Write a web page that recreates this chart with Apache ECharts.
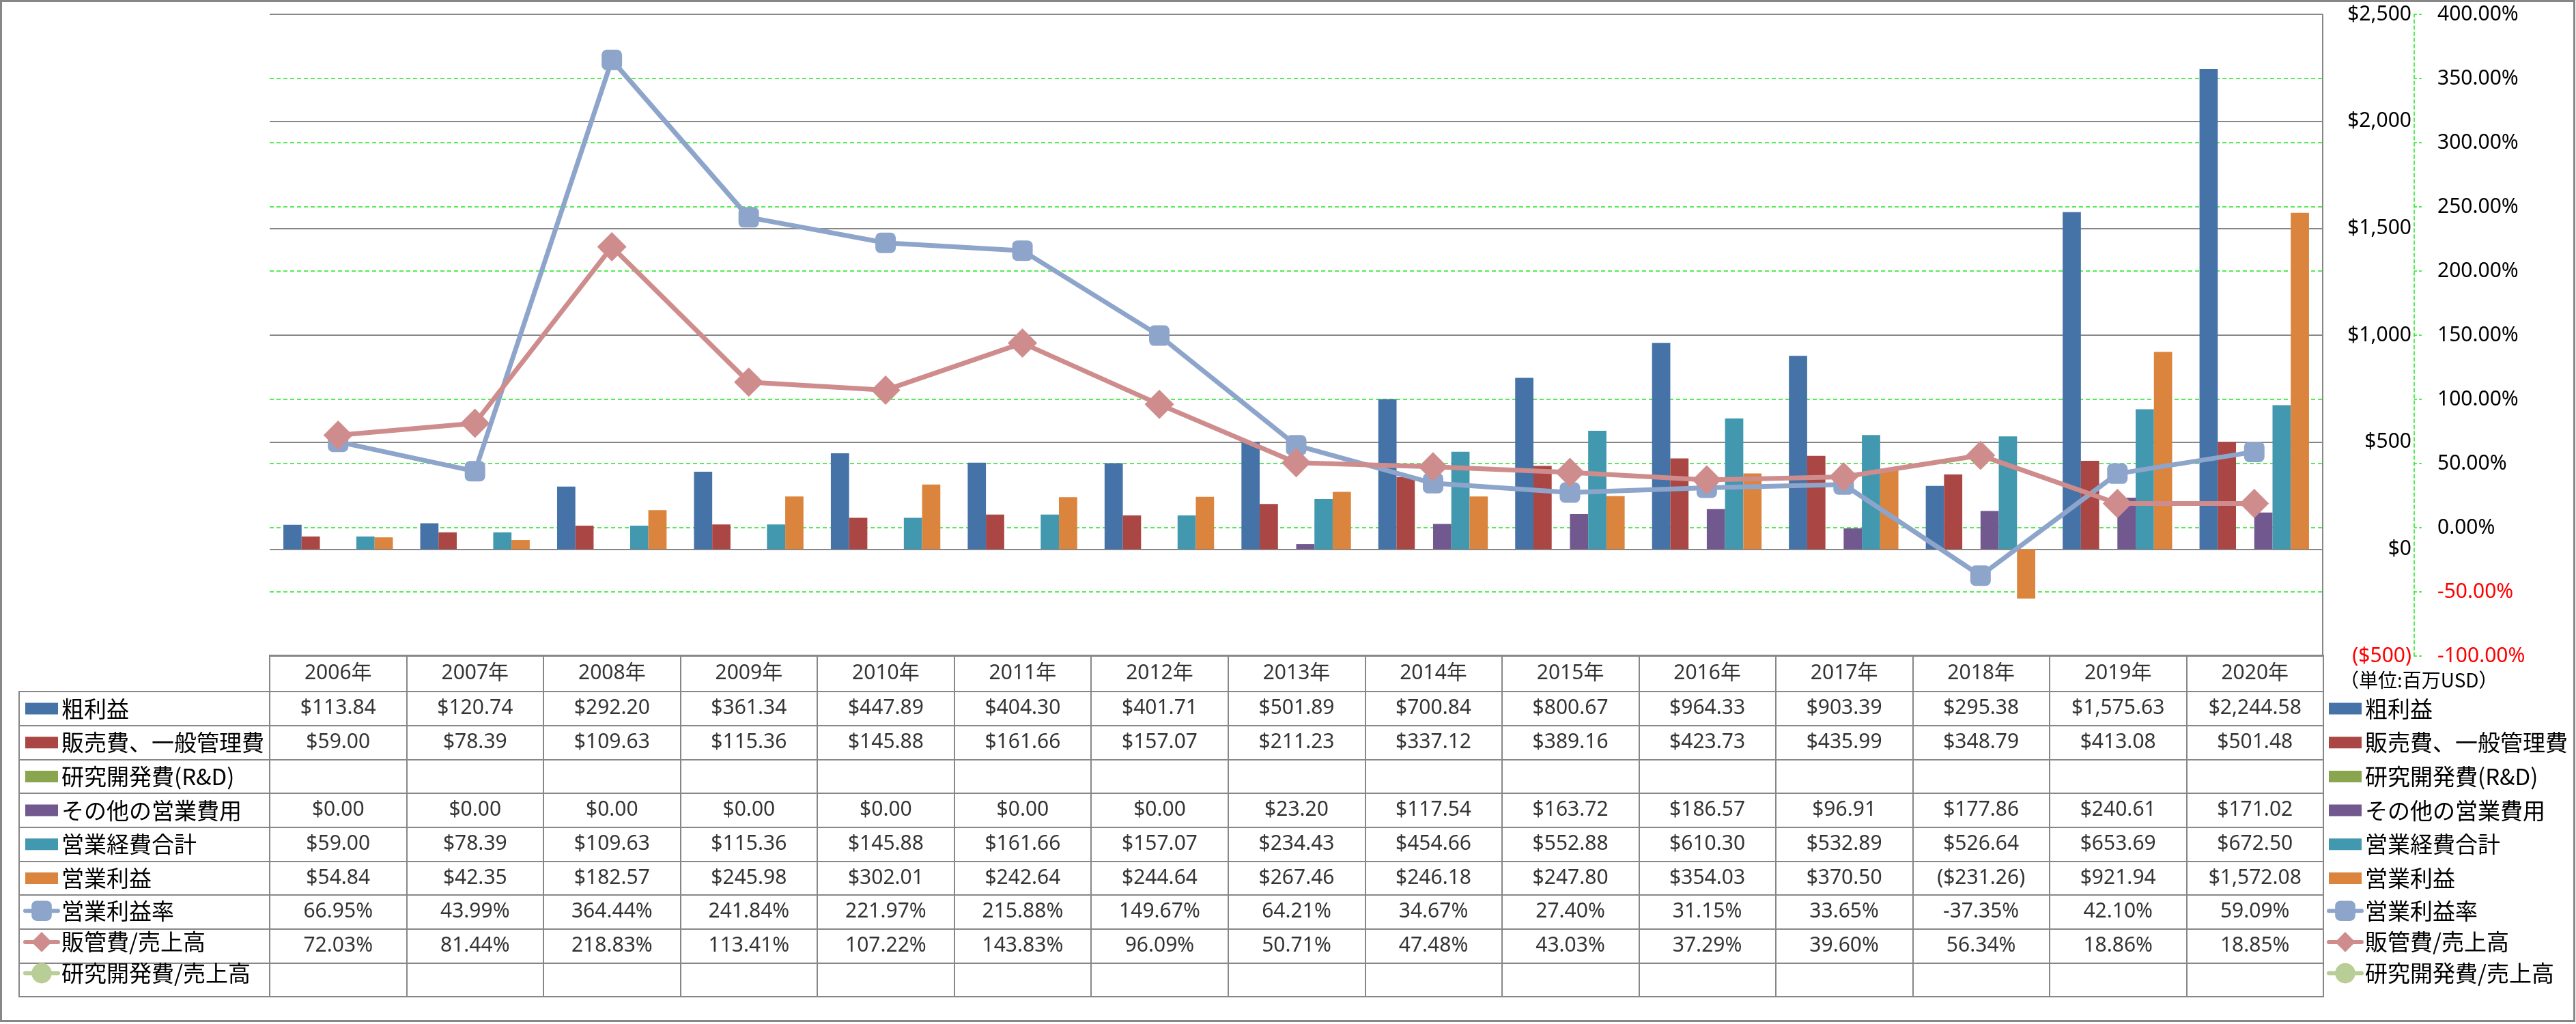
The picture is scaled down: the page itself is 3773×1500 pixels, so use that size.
<!DOCTYPE html>
<html><head><meta charset="utf-8">
<script src="https://cdn.jsdelivr.net/npm/echarts@6/dist/echarts.min.js"></script>
<style>html,body{margin:0;padding:0;background:#fff}#c{width:3773px;height:1500px}</style>
</head><body><div id="c"></div>
<script>
// ---------- data ----------
const years = ['2006年','2007年','2008年','2009年','2010年','2011年','2012年','2013年','2014年','2015年','2016年','2017年','2018年','2019年','2020年'];
const grossProfit     = [113.84,120.74,292.20,361.34,447.89,404.30,401.71,501.89,700.84,800.67,964.33,903.39,295.38,1575.63,2244.58];
const sgaExpense      = [59.00,78.39,109.63,115.36,145.88,161.66,157.07,211.23,337.12,389.16,423.73,435.99,348.79,413.08,501.48];
const rdExpense       = [null,null,null,null,null,null,null,null,null,null,null,null,null,null,null];
const otherOpex       = [0,0,0,0,0,0,0,23.20,117.54,163.72,186.57,96.91,177.86,240.61,171.02];
const totalOpex       = [59.00,78.39,109.63,115.36,145.88,161.66,157.07,234.43,454.66,552.88,610.30,532.89,526.64,653.69,672.50];
const operatingIncome = [54.84,42.35,182.57,245.98,302.01,242.64,244.64,267.46,246.18,247.80,354.03,370.50,-231.26,921.94,1572.08];
const operatingMargin = [66.95,43.99,364.44,241.84,221.97,215.88,149.67,64.21,34.67,27.40,31.15,33.65,-37.35,42.10,59.09];
const sgaRatio        = [72.03,81.44,218.83,113.41,107.22,143.83,96.09,50.71,47.48,43.03,37.29,39.60,56.34,18.86,18.85];
const rdRatio         = [null,null,null,null,null,null,null,null,null,null,null,null,null,null,null];

const barNames  = ['粗利益','販売費、一般管理費','研究開発費(R&D)','その他の営業費用','営業経費合計','営業利益'];
const lineNames = ['営業利益率','販管費/売上高','研究開発費/売上高'];
const dollarAxisTicks  = { min: -500, max: 2500, interval: 500 };
const percentAxisTicks = { min: -100, max: 400, interval: 50 };
const unitNote = '（単位:百万USD）';

// ---------- styles ----------
const barColors  = ['#4572A7','#AA4643','#89A54E','#71588F','#4198AF','#DB843D'];
const lineColors = ['#8EA5CB','#CE8D8C','#B9CD96'];
const lineSymbols = ['roundRect','diamond','circle'];
const lineSymbolSizes = [30, 43, 30];
const GRAY = '#878787';
const GREEN = '#1EE61E';
const LATIN = "'Noto Sans','Noto Sans CJK JP',sans-serif";
const CJK = "'Noto Sans CJK JP','Noto Sans',sans-serif";

const barData = [grossProfit, sgaExpense, rdExpense, otherOpex, totalOpex, operatingIncome];
const lineData = [operatingMargin, sgaRatio, rdRatio];
const allNames = barNames.concat(lineNames);

function fmtMoney(v){
  if (v == null) return '';
  const s = Math.abs(v).toLocaleString('en-US',{minimumFractionDigits:2,maximumFractionDigits:2});
  return v < 0 ? '($' + s + ')' : '$' + s;
}
function fmtPct(v){ return v == null ? '' : v.toFixed(2) + '%'; }

// ---------- table cell data ----------
const headerCells = years.map((y,i)=>[i,0,y]);
const bodyCells = [];
barData.forEach((arr,r)=>arr.forEach((v,c)=>{ if(v!=null) bodyCells.push([c,r,fmtMoney(v)]); }));
lineData.forEach((arr,k)=>arr.forEach((v,c)=>{ if(v!=null) bodyCells.push([c,barNames.length+k,fmtPct(v)]); }));

const barIcon = 'path://M0,0M0,10L48,10L48,27L0,27ZM48,37';
const legendData = allNames.map((n,i)=> i < barNames.length ? {name:n, icon:barIcon} : {name:n});

const series = [];
barNames.forEach((n,i)=>series.push({
  type:'bar', name:n, data:barData[i], xAxisIndex:0, yAxisIndex:0,
  itemStyle:{color:barColors[i]}, barGap:'0%', barCategoryGap:'20%'
}));
lineNames.forEach((n,i)=>series.push({
  type:'line', name:n, data:lineData[i], xAxisIndex:0, yAxisIndex:1,
  symbol:lineSymbols[i], symbolSize:lineSymbolSizes[i],
  lineStyle:{width:7,color:lineColors[i]}, itemStyle:{color:lineColors[i]}
}));
const cellLabel = {show:true, position:'inside', color:'#000', fontSize:30, fontFamily:LATIN, formatter:p=>p.value[2]};
series.push({type:'scatter', name:'_header', xAxisIndex:1, yAxisIndex:2, data:headerCells, symbolSize:1,
  itemStyle:{color:'rgba(0,0,0,0)'}, label:cellLabel, silent:true});
series.push({type:'scatter', name:'_body', xAxisIndex:2, yAxisIndex:3, data:bodyCells, symbolSize:1,
  itemStyle:{color:'rgba(0,0,0,0)'}, label:cellLabel, silent:true});

const hidden = {axisLine:{show:false}, axisTick:{show:false}, axisLabel:{show:false}};
const split = {show:true, interval:0, lineStyle:{color:GRAY, width:2}};
const gridBorder = {show:true, borderColor:GRAY, borderWidth:2, backgroundColor:'transparent', outerBoundsMode:'none', containLabel:false};
const legendCommon = {data:legendData, orient:'vertical', top:1019.5, padding:0, itemGap:12.7,
  itemWidth:48, itemHeight:37, selectedMode:false, lineStyle:{width:6, cap:'round'},
  textStyle:{fontSize:33, lineHeight:33, fontFamily:CJK, color:'#000'}};

const option = {
  animation:false,
  backgroundColor:'#fff',
  title:{text:unitNote, left:3427, top:982, padding:0,
    textStyle:{fontSize:28, fontWeight:'normal', fontFamily:CJK, color:'#000'}},
  grid:[
    {left:395, top:21, width:3007, height:940, outerBoundsMode:'none', containLabel:false},
    Object.assign({left:395, top:960, width:3008, height:53}, gridBorder),
    Object.assign({left:395, top:1013, width:3008, height:447}, gridBorder),
    Object.assign({left:28, top:1013, width:367, height:447}, gridBorder)
  ],
  xAxis:[
    Object.assign({gridIndex:0, type:'category', data:years, boundaryGap:true, splitLine:{show:false}}, hidden),
    Object.assign({gridIndex:1, type:'category', data:years, boundaryGap:true, splitLine:split}, hidden),
    Object.assign({gridIndex:2, type:'category', data:years, boundaryGap:true, splitLine:split}, hidden),
    {gridIndex:3, type:'value', min:0, max:1, show:false}
  ],
  yAxis:[
    {gridIndex:0, type:'value', position:'right', z:1,
      min:dollarAxisTicks.min, max:dollarAxisTicks.max, interval:dollarAxisTicks.interval,
      axisLine:{show:true, lineStyle:{color:GRAY, width:2}},
      axisTick:{show:false},
      axisLabel:{margin:130, align:'right', fontSize:30, fontFamily:LATIN,
        color:v=> Number(v) < 0 ? '#FF0000' : '#000',
        formatter:v=> v < 0 ? '($' + Math.abs(v).toLocaleString('en-US') + ')' : '$' + v.toLocaleString('en-US')},
      splitLine:{show:true, lineStyle:{color:GRAY, width:2}}},
    {gridIndex:0, type:'value', position:'right', offset:134, z:0,
      min:percentAxisTicks.min, max:percentAxisTicks.max, interval:percentAxisTicks.interval,
      axisLine:{show:true, lineStyle:{color:GREEN, width:1.5, type:[5,4]}},
      axisTick:{show:true, inside:false, length:11, lineStyle:{color:GREEN, width:1.5, type:[4,3]}},
      axisLabel:{margin:34, fontSize:30, fontFamily:LATIN,
        color:v=> Number(v) < 0 ? '#FF0000' : '#000',
        formatter:v=> v.toFixed(2) + '%'},
      splitLine:{show:true, showMinLine:false, showMaxLine:false, lineStyle:{color:GREEN, width:1.5, type:[6,4]}}},
    Object.assign({gridIndex:1, type:'category', data:['h'], boundaryGap:true, splitLine:{show:false}}, hidden),
    Object.assign({gridIndex:2, type:'category', data:allNames, inverse:true, boundaryGap:true, splitLine:split}, hidden),
    Object.assign({gridIndex:3, type:'category', data:allNames, inverse:true, boundaryGap:true, splitLine:split}, hidden)
  ],
  legend:[
    Object.assign({left:34}, legendCommon),
    Object.assign({left:3408}, legendCommon)
  ],
  graphic:[{type:'rect', shape:{x:1.5, y:1.5, width:3769, height:1494}, style:{fill:'none', stroke:GRAY, lineWidth:3}, silent:true, z:-1}],
  series:series
};
const chart = echarts.init(document.getElementById('c'), null, {renderer:'canvas'});
chart.setOption(option);
</script></body></html>
